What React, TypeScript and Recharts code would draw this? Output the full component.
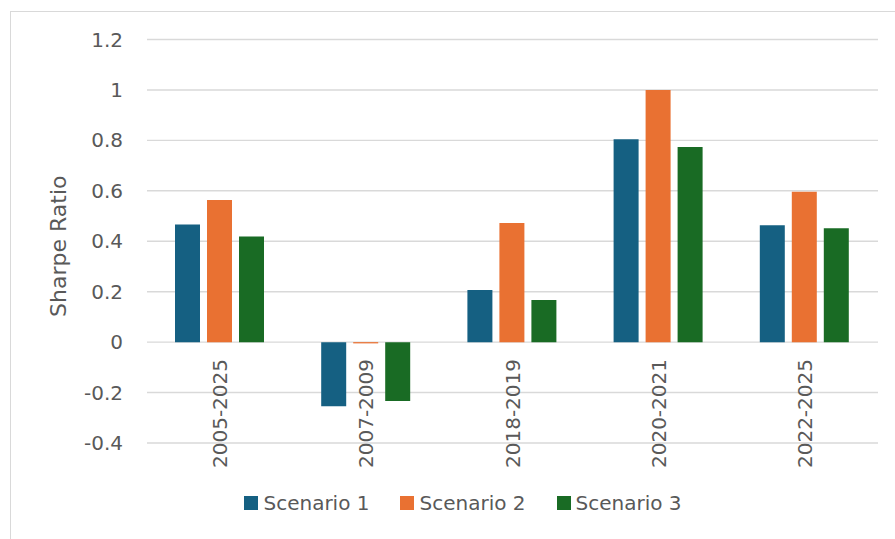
import React from 'react';
import { BarChart, Bar, XAxis, YAxis, CartesianGrid, Legend, Label } from 'recharts';

// Sharpe ratio by period for three scenarios
const periods = ['2005-2025', '2007-2009', '2018-2019', '2020-2021', '2022-2025'];
const scenario1 = [0.466, -0.254, 0.207, 0.804, 0.463];
const scenario2 = [0.564, -0.005, 0.472, 1.0, 0.596];
const scenario3 = [0.419, -0.233, 0.167, 0.774, 0.452];
const yTicks = [-0.4, -0.2, 0, 0.2, 0.4, 0.6, 0.8, 1, 1.2];

const seriesNames = ['Scenario 1', 'Scenario 2', 'Scenario 3'];
const seriesColors = ['#156082', '#E97132', '#196B24'];

const data = periods.map((p, i) => ({
  period: p,
  s1: scenario1[i],
  s2: scenario2[i],
  s3: scenario3[i],
}));

const FONT = '"DejaVu Sans", sans-serif';
const TEXT = '#595959';

// Category labels sit just under the zero line, reading bottom-to-top
const PeriodTick = (props: any) => {
  const { x, y, payload } = props;
  const ly = y - 84;
  return (
    <text
      x={x}
      y={ly}
      dy="0.36em"
      transform={`rotate(-90, ${x}, ${ly})`}
      textAnchor="end"
      fill={TEXT}
      fontSize={20}
      fontFamily={FONT}
    >
      {payload.value}
    </text>
  );
};

const LegendContent = (props: any) => {
  const { payload } = props;
  return (
    <div
      style={{
        display: 'flex',
        justifyContent: 'center',
        alignItems: 'center',
        paddingTop: 13,
        fontFamily: FONT,
        fontSize: 20,
        color: TEXT,
        lineHeight: '20px',
      }}
    >
      {(payload || []).map((item: any, i: number) => (
        <div
          key={item.value}
          style={{ display: 'flex', alignItems: 'center', marginLeft: i === 0 ? 0 : 31 }}
        >
          <span
            style={{ width: 14, height: 14, background: item.color, display: 'inline-block', marginRight: 5 }}
          />
          <span>{item.value}</span>
        </div>
      ))}
    </div>
  );
};

export default function App() {
  return (
    <div
      style={{
        position: 'absolute',
        left: 0,
        top: 0,
        width: 895,
        height: 539,
        overflow: 'hidden',
        background: '#ffffff',
      }}
    >
      <div
        style={{
          position: 'absolute',
          left: 10,
          top: 11,
          width: 940,
          height: 600,
          border: '1.5px solid #d9d9d9',
          boxSizing: 'border-box',
        }}
      />
      <div style={{ position: 'absolute', left: 0, top: 0 }}>
        <BarChart
          width={895}
          height={539}
          data={data}
          margin={{ top: 39.5, right: 17, left: 0, bottom: 0 }}
          barCategoryGap={28}
          barGap={7}
        >
          <CartesianGrid vertical={false} stroke="#d9d9d9" strokeWidth={1.4} />
          <XAxis
            dataKey="period"
            axisLine={false}
            tickLine={false}
            tickSize={0}
            tickMargin={0}
            height={37}
            interval={0}
            tick={<PeriodTick />}
          />
          <YAxis
            width={147}
            domain={[-0.4, 1.2]}
            ticks={yTicks}
            interval={0}
            axisLine={false}
            tickLine={false}
            tickSize={0}
            tickMargin={24}
            tick={{ fill: TEXT, fontSize: 20, fontFamily: FONT }}
            tickFormatter={(v: number) => String(v)}
          >
            <Label
              content={(p: any) => {
                const vb = p.viewBox || {};
                const cx = 58;
                const cy = (vb.y ?? 0) + (vb.height ?? 0) / 2 + 5;
                return (
                  <text
                    x={cx}
                    y={cy}
                    transform={`rotate(-90, ${cx}, ${cy})`}
                    textAnchor="middle"
                    dominantBaseline="central"
                    fill={TEXT}
                    fontSize={22}
                    fontFamily={FONT}
                  >
                    Sharpe Ratio
                  </text>
                );
              }}
            />
          </YAxis>
          <Legend
            verticalAlign="bottom"
            height={59}
            wrapperStyle={{ left: 0, width: 926 }}
            content={<LegendContent />}
          />
          <Bar dataKey="s1" name={seriesNames[0]} fill={seriesColors[0]} isAnimationActive={false} />
          <Bar dataKey="s2" name={seriesNames[1]} fill={seriesColors[1]} isAnimationActive={false} />
          <Bar dataKey="s3" name={seriesNames[2]} fill={seriesColors[2]} isAnimationActive={false} />
        </BarChart>
      </div>
    </div>
  );
}
